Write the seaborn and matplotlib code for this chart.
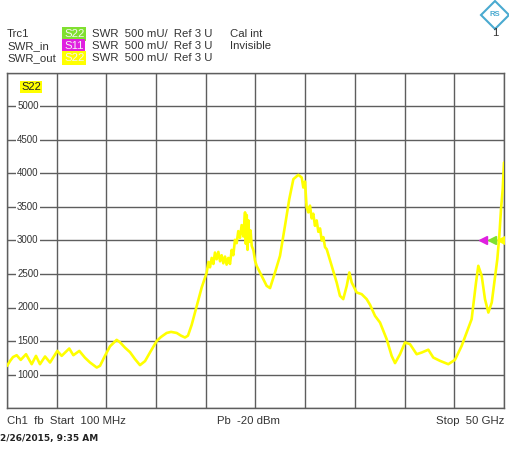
import matplotlib
matplotlib.use("Agg")
import matplotlib.pyplot as plt
from matplotlib.lines import Line2D
import seaborn as sns

# Trace data (frequency in GHz, SWR in mU)
freq_ghz = [0.10, 0.40, 0.70, 1.07, 1.48, 2.01, 2.58, 3.01, 3.41, 3.92, 4.42, 5.15, 5.59,
            6.35, 6.76, 7.36, 7.93, 8.43, 9.11, 9.44, 9.94, 10.44, 11.11, 11.45, 11.95,
            12.45, 12.95, 13.45, 13.96, 14.46, 15.13, 15.56, 16.13, 16.57, 17.14, 17.57,
            17.97, 18.27, 18.64, 19.15, 19.65,
            20.15, 20.32, 20.48, 20.65, 20.82, 20.98, 21.15, 21.32, 21.49, 21.65, 21.82,
            21.99, 22.15, 22.32, 22.49, 22.66, 22.82, 22.99, 23.16, 23.32, 23.49, 23.66,
            23.83, 24.00, 24.08, 24.17, 24.25, 24.34, 24.43, 24.55, 24.67, 24.85, 25.00,
            25.17, 25.67, 26.17, 26.51, 27.01, 27.51, 28.01, 28.44, 28.85, 29.35, 29.69,
            29.85, 30.02, 30.18, 30.35, 30.52, 30.69, 30.85, 31.02, 31.19, 31.36, 31.53,
            31.70, 31.86, 32.03, 32.20, 32.70, 33.20, 33.53, 33.86, 34.21, 34.47, 34.71,
            35.21, 35.71, 36.21, 36.55, 37.05, 37.55, 38.22, 38.72, 39.06, 39.56, 40.06,
            40.56, 41.23, 41.74, 42.40, 42.90, 43.57, 44.41, 45.08, 45.75, 46.25, 46.75,
            47.19, 47.42, 47.76, 48.09, 48.43, 48.77, 49.03, 49.33, 49.53, 49.70, 49.87,
            50.00]
swr_mu = [1128, 1200, 1260, 1288, 1218, 1303, 1154, 1278, 1154, 1269, 1179, 1352, 1278,
          1388, 1288, 1352, 1250, 1180, 1104, 1130, 1280, 1420, 1517, 1480, 1400,
          1333, 1230, 1140, 1200, 1330, 1500, 1560, 1620, 1636, 1620, 1580,
          1552, 1580, 1740, 2024, 2300,
          2520, 2680, 2600, 2740, 2650, 2820, 2720, 2830, 2690, 2780, 2660,
          2760, 2640, 2740, 2650, 2860, 2780, 3010, 2960, 3140, 3040, 3230,
          3060, 3420, 2950, 3380, 2860, 3300, 2980, 3150, 2920, 2850, 2700,
          2620, 2473, 2323, 2290, 2523, 2771, 3219, 3617, 3915, 3980, 3940,
          3791, 3880, 3500, 3420, 3520, 3330, 3400, 3220, 3300, 3130, 3180,
          3000, 3050, 2900, 2870, 2622, 2373, 2174, 2125, 2323, 2523, 2373,
          2224, 2199, 2125, 2040, 1875, 1776, 1527, 1278, 1170, 1303, 1478,
          1453, 1303, 1328, 1370, 1253, 1204, 1154, 1220, 1428, 1627, 1826,
          2373, 2622, 2472, 2125, 1925, 2075, 2373, 2722, 3070, 3467, 3766,
          4164]

# reference level markers (3 U) at the right edge
ref_marker_freq = [47.9, 48.8, 49.65]
ref_marker_level = [3000, 3000, 3000]
ref_marker_colors = ["#E020E0", "#80E030", "#FFFF00"]

y_labels = [1000, 1500, 2000, 2500, 3000, 3500, 4000, 4500, 5000]

sns.set_style("white")
plt.rcParams["font.family"] = ["Liberation Sans", "DejaVu Sans"]

W, H = 510, 450
fig = plt.figure(figsize=(W / 100, H / 100), dpi=100)
ax = fig.add_axes([7 / W, 1 - 408 / H, 497 / W, 335 / H])

grid_col = "#5e5e5e"
ax.set_xlim(0.1, 50)
ax.set_ylim(500, 5500)
ax.set_xticks([0.1 + i * 4.99 for i in range(11)])
ax.set_yticks([500 + i * 500 for i in range(11)])
ax.tick_params(length=0, labelbottom=False, labelleft=False)
ax.grid(True, color=grid_col, linewidth=1.0)
for s in ax.spines.values():
    s.set_color(grid_col)
    s.set_linewidth(1.0)

sns.lineplot(x=freq_ghz, y=swr_mu, ax=ax, color="#FFFF00", linewidth=1.9,
             estimator=None, zorder=3)

for f, lv, c in zip(ref_marker_freq, ref_marker_level, ref_marker_colors):
    ax.plot(f, lv, marker="<", color=c, markersize=6, zorder=4, linestyle="none")

# y labels sit inside the grid
for v in y_labels:
    ax.text(0.042, v, str(v), transform=ax.get_yaxis_transform(), fontsize=7,
            ha="center", va="center", color="#333333",
            bbox=dict(facecolor="white", edgecolor="none", pad=0.8), zorder=5)

ax.text(14 / 497, 1 - (87 - 73) / 335, "S22", transform=ax.transAxes, fontsize=8,
        ha="left", va="center", color="#222222",
        bbox=dict(facecolor="#FFFF00", edgecolor="none", pad=0.6), zorder=5)

# header
def ftext(x, y, s, **kw):
    fig.text(x / W, 1 - y / H, s, va="center", **kw)

txt_col = "#333333"
ftext(7, 34, "Trc1", fontsize=8.2, color=txt_col)
ftext(7, 46, "SWR_in", fontsize=8.2, color=txt_col)
ftext(7, 58, "SWR_out", fontsize=8.2, color=txt_col)
badges = [("S22", "#80E030", 34), ("S11", "#E020E0", 46), ("S22", "#FFFF00", 58)]
for lab, col, y in badges:
    fig.text(64 / W, 1 - y / H, lab, fontsize=8.2, va="center", color="#f4f4f4",
             bbox=dict(facecolor=col, edgecolor="none", pad=1.3))
    ftext(92, y, "SWR  500 mU/  Ref 3 U", fontsize=8.2, color=txt_col)
ftext(230, 34, "Cal int", fontsize=8.2, color=txt_col)
ftext(230, 46, "Invisible", fontsize=8.2, color=txt_col)
ftext(495, 33, "1", fontsize=8.2, color=txt_col, ha="center")

# R&S logo
fig.add_artist(Line2D([495 / W], [1 - 15 / H], marker="D", markersize=14,
                      markerfacecolor="none", markeredgecolor="#4AAAD0",
                      markeredgewidth=1.5, transform=fig.transFigure))
ftext(495, 15, "RS", fontsize=5.5, color="#4AAAD0", ha="center", fontweight="bold")

# footer
ftext(7, 421, "Ch1  fb  Start  100 MHz", fontsize=8.2, color=txt_col)
ftext(217, 421, "Pb  -20 dBm", fontsize=8.2, color=txt_col)
ftext(504, 421, "Stop  50 GHz", fontsize=8.2, color=txt_col, ha="right")
fig.text(0, 1 - 438 / H, "2/26/2015, 9:35 AM", fontsize=6.5, va="center",
         fontweight="bold", color="#222222", family="DejaVu Sans")

fig.savefig("out.png", dpi=100)
